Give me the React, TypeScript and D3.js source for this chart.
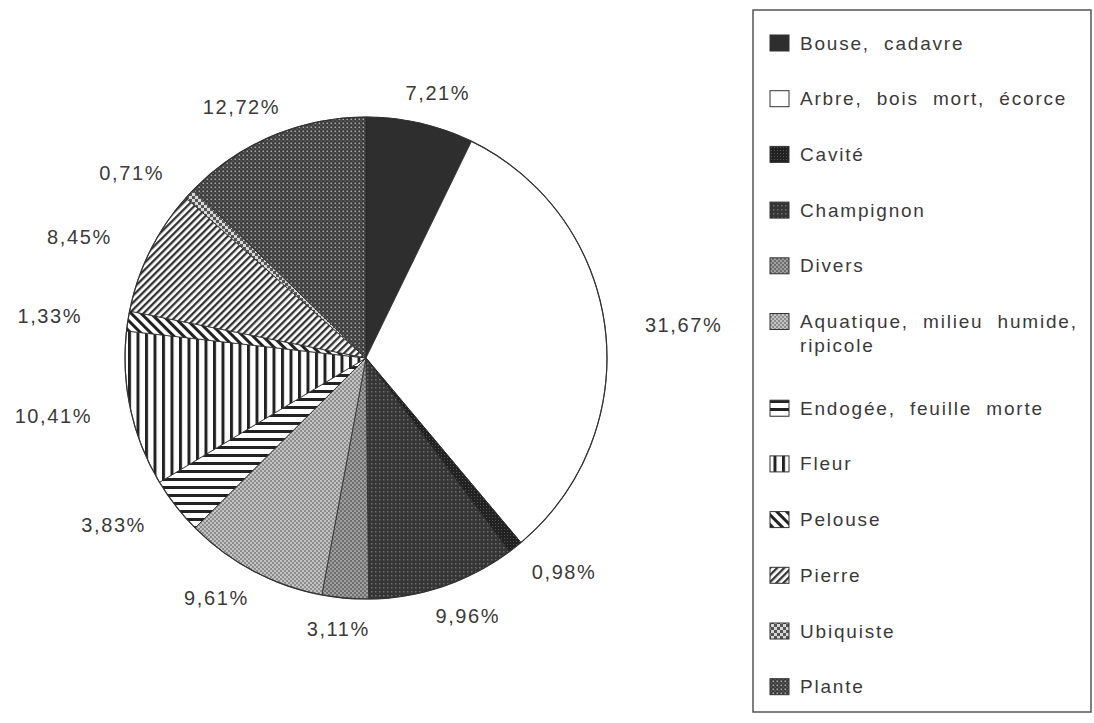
import React from "react";
import * as d3 from "d3";

// habitats, clockwise from 12 o'clock
const categories = [
  "Bouse, cadavre",
  "Arbre, bois mort, écorce",
  "Cavité",
  "Champignon",
  "Divers",
  "Aquatique, milieu humide, ripicole",
  "Endogée, feuille morte",
  "Fleur",
  "Pelouse",
  "Pierre",
  "Ubiquiste",
  "Plante",
];
const values = [7.21, 31.67, 0.98, 9.96, 3.11, 9.61, 3.83, 10.41, 1.33, 8.45, 0.71, 12.72];
const valueLabels = ["7,21%", "31,67%", "0,98%", "9,96%", "3,11%", "9,61%", "3,83%", "10,41%", "1,33%", "8,45%", "0,71%", "12,72%"];
// legend text lines (Aquatique wraps)
const legendLines = [
  ["Bouse,  cadavre"],
  ["Arbre,  bois  mort,  écorce"],
  ["Cavité"],
  ["Champignon"],
  ["Divers"],
  ["Aquatique,  milieu  humide,", "ripicole"],
  ["Endogée,  feuille  morte"],
  ["Fleur"],
  ["Pelouse"],
  ["Pierre"],
  ["Ubiquiste"],
  ["Plante"],
];

const fills = [
  "#2e2e2e",
  "#ffffff",
  "url(#p-cavite)",
  "url(#p-champ)",
  "url(#p-divers)",
  "url(#p-aqua)",
  "url(#p-endo)",
  "url(#p-fleur)",
  "url(#p-pelouse)",
  "url(#p-pierre)",
  "url(#p-ubiq)",
  "url(#p-plante)",
];

function Patterns() {
  return (
    <defs>
      <pattern id="p-cavite" width={3} height={3} patternUnits="userSpaceOnUse">
        <rect width={3} height={3} fill="#222" />
        <rect width={1} height={1} fill="#555" />
      </pattern>
      <pattern id="p-champ" width={4} height={4} patternUnits="userSpaceOnUse">
        <rect width={4} height={4} fill="#353535" />
        <rect x={1} y={1} width={1.5} height={1.5} fill="#707070" />
      </pattern>
      <pattern id="p-divers" width={4} height={4} patternUnits="userSpaceOnUse">
        <rect width={4} height={4} fill="#6e6e6e" />
        <rect width={2} height={2} fill="#a0a0a0" />
        <rect x={2} y={2} width={2} height={2} fill="#a0a0a0" />
      </pattern>
      <pattern id="p-aqua" width={4} height={4} patternUnits="userSpaceOnUse">
        <rect width={4} height={4} fill="#8c8c8c" />
        <rect width={2} height={2} fill="#c4c4c4" />
        <rect x={2} y={2} width={2} height={2} fill="#c4c4c4" />
      </pattern>
      <pattern id="p-endo" width={8} height={8} patternUnits="userSpaceOnUse">
        <rect width={8} height={8} fill="#fff" />
        <rect y={0} width={8} height={3} fill="#222" />
      </pattern>
      <pattern id="p-fleur" width={8.5} height={8.5} patternUnits="userSpaceOnUse">
        <rect width={8.5} height={8.5} fill="#fff" />
        <rect x={0} width={3} height={8.5} fill="#222" />
      </pattern>
      <pattern id="p-pelouse" width={7} height={7} patternUnits="userSpaceOnUse" patternTransform="rotate(45)">
        <rect width={7} height={7} fill="#fff" />
        <rect width={7} height={3} fill="#222" />
      </pattern>
      <pattern id="p-pierre" width={5} height={5} patternUnits="userSpaceOnUse" patternTransform="rotate(-45)">
        <rect width={5} height={5} fill="#fff" />
        <rect width={5} height={2.3} fill="#333" />
      </pattern>
      <pattern id="p-ubiq" width={6} height={6} patternUnits="userSpaceOnUse">
        <rect width={6} height={6} fill="#d8d8d8" />
        <rect width={3} height={3} fill="#555" />
        <rect x={3} y={3} width={3} height={3} fill="#555" />
      </pattern>
      <pattern id="p-plante" width={4} height={4} patternUnits="userSpaceOnUse">
        <rect width={4} height={4} fill="#3a3a3a" />
        <rect x={0.5} y={0.5} width={1.6} height={1.6} fill="#a8a8a8" />
        <rect x={2.5} y={2.5} width={1.2} height={1.2} fill="#777" />
      </pattern>
    </defs>
  );
}

export default function App() {
  const width = 1094;
  const height = 723;
  const cx = 366;
  const cy = 358;
  const r = 241;

  const data = values.map((v, i) => ({ name: categories[i], value: v, label: valueLabels[i], fill: fills[i] }));
  const pie = d3.pie<any>().sort(null).value((d) => d.value).startAngle(0).endAngle(2 * Math.PI);
  const arcs = pie(data);
  const arc = d3.arc<any>().innerRadius(0).outerRadius(r);

  const fontFamily = "'Liberation Sans', Arial, Helvetica, sans-serif";
  const textColor = "#3a3a3a";

  // labels sit on a wide ellipse round the pie
  const labelRx = 320;
  const labelRy = 272;

  // legend layout
  const lgX = 753;
  const lgY = 10;
  const rowStart = 43;
  const rowStep = 55.7;

  return (
    <svg
      width={width}
      height={height}
      style={{ position: "absolute", left: 0, top: 0, background: "#fff" }}
    >
      <Patterns />
      <rect width={width} height={height} fill="#fff" />

      {/* pie */}
      <g transform={`translate(${cx},${cy})`}>
        {arcs.map((a, i) => (
          <path key={i} d={arc(a) || ""} fill={a.data.fill} stroke="#2a2a2a" strokeWidth={0.8} />
        ))}
        <circle r={r} fill="none" stroke="#333" strokeWidth={1.2} />

        {/* labels */}
        {arcs.map((a, i) => {
          const mid = (a.startAngle + a.endAngle) / 2;
          const x = Math.sin(mid) * labelRx;
          const y = -Math.cos(mid) * labelRy;
          return (
            <text
              key={i}
              x={x}
              y={y}
              textAnchor="middle"
              dominantBaseline="central"
              fontFamily={fontFamily}
              fontSize={20}
              letterSpacing={1.6}
              fill={textColor}
            >
              {a.data.label}
            </text>
          );
        })}
      </g>

      {/* legend */}
      <rect x={lgX} y={lgY} width={338} height={702} fill="none" stroke="#555" strokeWidth={1.5} />
      {legendLines.map((lines, i) => {
        const y = rowStart + i * rowStep + (i > 5 ? 31 : 0);
        return (
          <g key={i}>
            <rect x={770} y={y - 8} width={19} height={16} fill={fills[i]} stroke="#333" strokeWidth={1} />
            {lines.map((t, j) => (
              <text
                key={j}
                x={800}
                y={y + j * 24}
                dominantBaseline="central"
                fontFamily={fontFamily}
                fontSize={19}
                letterSpacing={1.8}
                fill={textColor}
                style={{ whiteSpace: "pre" }}
              >
                {t}
              </text>
            ))}
          </g>
        );
      })}
    </svg>
  );
}
